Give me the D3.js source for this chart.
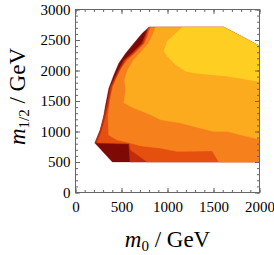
<!DOCTYPE html>
<html>
<head>
<meta charset="utf-8">
<script src="https://cdn.jsdelivr.net/npm/d3@7/dist/d3.min.js"></script>
<style>
body { margin: 0; background: #fff; }
text { font-family: "Liberation Serif", "DejaVu Serif", serif; fill: #000; }
</style>
</head>
<body>
<div id="chart-area"></div>
<script>
// contour levels, darkest (lowest) first
var levelColors = ["#7d0a05", "#c22c0a", "#e6500f", "#f6811c", "#fcaa1e", "#fecf22"];

// filled regions in (m0, m1/2) GeV, each one inside the previous
var level0 = [[400,500],[210,810],[268,1025],[305,1240],[326,1435],[362,1710],[416,1925],[470,2120],[543,2280],[634,2445],[725,2610],[797,2710],[1612,2710],[2000,2400],[2000,500]];
var level1 = [[592,500],[578,795],[210,810],[268,1025],[305,1240],[338,1435],[378,1735],[466,2008],[528,2172],[612,2281],[720,2445],[758,2582],[783,2680],[797,2710],[1612,2710],[2000,2400],[2000,500]];
var level2 = [[780,500],[598,697],[585,805],[235,815],[288,1024],[326,1242],[360,1435],[395,1734],[484,2008],[546,2172],[630,2281],[739,2445],[772,2582],[792,2680],[800,2710],[1612,2710],[2000,2400],[2000,500]];
var level3 = [[1558,500],[1486,682],[1105,671],[924,727],[707,764],[580,815],[450,860],[359,942],[353,1270],[375,1516],[402,1713],[446,1877],[500,2041],[565,2172],[647,2281],[750,2445],[788,2582],[815,2710],[1612,2710],[2000,2400],[2000,500]];
var level4 = [[2000,870],[1866,917],[1649,1000],[1500,1000],[1283,1082],[1141,1138],[924,1192],[815,1274],[634,1384],[525,1466],[544,1680],[533,1844],[565,2008],[630,2172],[696,2281],[794,2445],[837,2582],[870,2710],[1612,2710],[2000,2400]];
var level5 = [[1160,2710],[997,2479],[960,2315],[997,2233],[1087,2096],[1196,1986],[1286,1960],[1467,1932],[1649,1904],[1829,1861],[2000,1815],[2000,2400],[1612,2710]];

var xTicks = [0, 500, 1000, 1500, 2000];
var yTicks = [0, 500, 1000, 1500, 2000, 2500, 3000];
var xMinor = d3.range(0, 2001, 100);
var yMinor = d3.range(0, 3001, 100);

var margin = { left: 75.5, right: 14.5, top: 9.5, bottom: 62.5 };
var width = 274 - margin.left - margin.right;
var height = 255 - margin.top - margin.bottom;

var svg = d3.select("#chart-area")
    .append("svg")
    .attr("width", 274)
    .attr("height", 255);

var g = svg.append("g")
    .attr("transform", "translate(" + margin.left + ", " + margin.top + ")");

var x = d3.scaleLinear().domain([0, 2000]).range([0, width]);
var y = d3.scaleLinear().domain([0, 3000]).range([height, 0]);

var area = d3.line()
    .x(d => x(d[0]))
    .y(d => y(d[1]))
    .curve(d3.curveLinearClosed);

var levels = [level0, level1, level2, level3, level4, level5];
g.selectAll("path.level")
    .data(levels)
    .enter()
    .append("path")
    .attr("class", "level")
    .attr("d", area)
    .attr("fill", (d, i) => levelColors[i])
    .attr("stroke", (d, i) => levelColors[i])
    .attr("stroke-width", 0.3);

// ticks on all four sides, pointing in
function styleAxis(sel) {
    sel.select(".domain").remove();
    sel.selectAll("line").attr("stroke", "#666");
    sel.selectAll("text")
        .style("font-family", "'Liberation Serif', serif")
        .style("font-size", "15px")
        .attr("fill", "#000");
}

g.append("g").attr("transform", "translate(0," + height + ")")
    .call(d3.axisBottom(x).tickValues(xMinor).tickSize(-2.5).tickFormat(""))
    .call(styleAxis);
g.append("g").attr("transform", "translate(0," + height + ")")
    .call(d3.axisBottom(x).tickValues(xTicks).tickSize(-4.5).tickPadding(9).tickFormat(d3.format("d")))
    .call(styleAxis);
g.append("g")
    .call(d3.axisTop(x).tickValues(xMinor).tickSize(-2.5).tickFormat(""))
    .call(styleAxis);
g.append("g")
    .call(d3.axisTop(x).tickValues(xTicks).tickSize(-4.5).tickFormat(""))
    .call(styleAxis);

g.append("g")
    .call(d3.axisLeft(y).tickValues(yMinor).tickSize(-2.5).tickFormat(""))
    .call(styleAxis);
g.append("g")
    .call(d3.axisLeft(y).tickValues(yTicks).tickSize(-4.5).tickPadding(5).tickFormat(d3.format("d")))
    .call(styleAxis);
g.append("g").attr("transform", "translate(" + width + ",0)")
    .call(d3.axisRight(y).tickValues(yMinor).tickSize(-2.5).tickFormat(""))
    .call(styleAxis);
g.append("g").attr("transform", "translate(" + width + ",0)")
    .call(d3.axisRight(y).tickValues(yTicks).tickSize(-4.5).tickFormat(""))
    .call(styleAxis);

g.append("rect")
    .attr("width", width)
    .attr("height", height)
    .attr("fill", "none")
    .attr("stroke", "#666")
    .attr("stroke-width", 1);

// axis titles
var xt = svg.append("text")
    .attr("x", margin.left + width / 2)
    .attr("y", 246.5)
    .attr("text-anchor", "middle")
    .style("font-size", "23px");
xt.append("tspan").style("font-style", "italic").text("m");
xt.append("tspan").attr("dy", 4).style("font-size", "15px").text("0");
xt.append("tspan").attr("dy", -4).text(" / GeV");

var yt = svg.append("text")
    .attr("transform", "translate(24.5," + (margin.top + height / 2 - 4.5) + ") rotate(-90)")
    .attr("text-anchor", "middle")
    .style("font-size", "23px");
yt.append("tspan").style("font-style", "italic").text("m");
yt.append("tspan").attr("dy", 4).style("font-size", "15px").text("1/2");
yt.append("tspan").attr("dy", -4).text(" / GeV");
</script>
</body>
</html>
